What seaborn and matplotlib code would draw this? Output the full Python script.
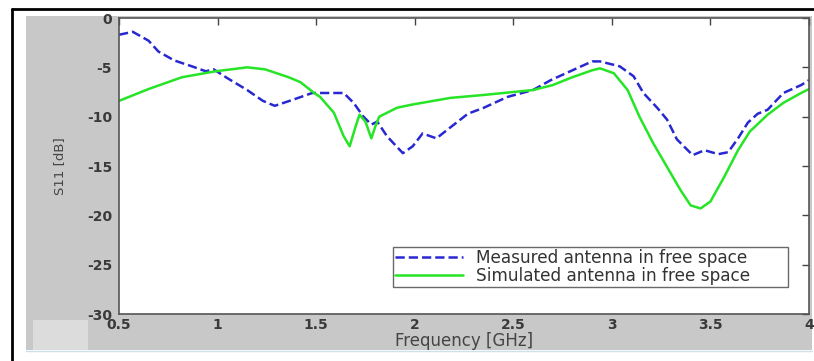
import numpy as np
import pandas as pd
import matplotlib
matplotlib.use('Agg')
import matplotlib.pyplot as plt
from matplotlib.patches import Rectangle
import seaborn as sns

# measured S11 (blue dashed)
f_meas = [0.50, 0.57, 0.65, 0.70, 0.78, 0.87, 0.94, 0.98, 1.05, 1.15, 1.23, 1.29, 1.38,
          1.48, 1.55, 1.64, 1.69, 1.74, 1.78, 1.81, 1.86, 1.94, 1.99, 2.04, 2.11, 2.18,
          2.27, 2.35, 2.47, 2.60, 2.69, 2.80, 2.90, 2.94, 3.04, 3.11, 3.16, 3.23, 3.28,
          3.33, 3.41, 3.47, 3.54, 3.59, 3.64, 3.69, 3.74, 3.79, 3.87, 3.96, 4.00]
s_meas = [-1.7, -1.4, -2.3, -3.4, -4.3, -4.9, -5.4, -5.2, -6.1, -7.3, -8.4, -8.9, -8.3,
          -7.6, -7.6, -7.6, -8.6, -10.0, -10.8, -10.5, -12.0, -13.7, -13.0, -11.7, -12.2, -11.1,
          -9.7, -9.1, -8.0, -7.3, -6.3, -5.3, -4.4, -4.4, -4.9, -5.9, -7.6, -9.1, -10.3,
          -12.3, -13.9, -13.4, -13.8, -13.6, -12.2, -10.6, -9.7, -9.3, -7.6, -6.8, -6.3]

# simulated S11 (green solid)
f_sim = [0.50, 0.65, 0.82, 0.99, 1.15, 1.24, 1.36, 1.42, 1.49, 1.52, 1.59, 1.64, 1.67,
         1.70, 1.72, 1.75, 1.78, 1.80, 1.82, 1.86, 1.91, 1.98, 2.18, 2.35, 2.60, 2.70,
         2.80, 2.90, 2.94, 3.01, 3.08, 3.14, 3.21, 3.28, 3.35, 3.40, 3.45, 3.50, 3.57,
         3.64, 3.70, 3.79, 3.87, 3.96, 4.00]
s_sim = [-8.4, -7.2, -6.0, -5.4, -5.0, -5.2, -6.0, -6.5, -7.6, -8.0, -9.6, -12.0, -13.0,
         -11.0, -9.8, -10.5, -12.2, -11.0, -10.0, -9.6, -9.1, -8.8, -8.1, -7.8, -7.3, -6.8,
         -6.0, -5.3, -5.1, -5.6, -7.3, -10.0, -12.7, -15.1, -17.5, -19.0, -19.3, -18.6, -16.1,
         -13.4, -11.5, -9.8, -8.6, -7.6, -7.2]

labels = ['Measured antenna in free space', 'Simulated antenna in free space']
xticks = [0.5, 1, 1.5, 2, 2.5, 3, 3.5, 4]
yticks = [0, -5, -10, -15, -20, -25, -30]

sns.set_style('white')
plt.rcParams['font.family'] = ['DejaVu Sans']

fig = plt.figure(figsize=(8.14, 3.61), dpi=100, facecolor='w')
W, H = 814.0, 361.0

def px_rect(x0, y0, x1, y1, **kw):
    # rectangle given in picture pixels (top-left origin)
    fig.patches.append(Rectangle((x0 / W, 1 - y1 / H), (x1 - x0) / W, (y1 - y0) / H,
                                 transform=fig.transFigure, zorder=-10, **kw))

def px_line(xs, ys, **kw):
    fig.add_artist(plt.Line2D([x / W for x in xs], [1 - y / H for y in ys],
                              transform=fig.transFigure, zorder=-5, **kw))

# gray matlab figure background and outer frame
px_rect(26, 16, 812, 350, facecolor='#c8c8c8', edgecolor='none')
px_rect(33, 320, 88, 350, facecolor='#dcdcdc', edgecolor='none')
px_line([12, 12], [9, 361], color='k', lw=2)
px_line([12, 814], [9, 9], color='k', lw=2)
px_line([26, 812], [351, 351], color='#cfe0ea', lw=1)

ax = fig.add_axes([119 / W, 1 - 314 / H, (809 - 119) / W, (314 - 18) / H])
ax.set_facecolor('white')

sns.lineplot(x=f_meas, y=s_meas, ax=ax, color='#2828d2', linewidth=1.8, linestyle='--',
             dashes=(3.2, 1.8), label=labels[0])
sns.lineplot(x=f_sim, y=s_sim, ax=ax, color='#26e426', linewidth=1.8, label=labels[1])

ax.set_xlim(0.5, 4)
ax.set_ylim(-30, 0)
ax.set_xticks(xticks)
ax.set_xticklabels(['0.5', '1', '1.5', '2', '2.5', '3', '3.5', '4'])
ax.set_yticks(yticks)
ax.set_yticklabels([str(t) for t in yticks])
ax.tick_params(direction='in', length=5, width=1, colors='#444444', top=True, right=True,
               labelsize=10)
ax.tick_params(axis='x', pad=3)
ax.tick_params(axis='y', pad=5)
for lab in ax.get_xticklabels() + ax.get_yticklabels():
    lab.set_fontweight('bold')
    lab.set_color('#3a3a3a')
for sp in ax.spines.values():
    sp.set_color('#555555')
    sp.set_linewidth(1.2)

ax.set_xlabel('Frequency [GHz]', fontsize=12, color='#444444', labelpad=0)
ax.set_ylabel('S11 [dB]', fontsize=9.5, color='#444444', labelpad=15)

leg = ax.legend(loc='upper left', mode='expand',
                bbox_to_anchor=((393 - 119) / 690, (314 - 247) / 296, (788 - 393) / 690, 0),
                fontsize=12.2, frameon=True, fancybox=False, handlelength=4.0,
                borderpad=0.12, labelspacing=0.0, handletextpad=0.8, borderaxespad=0)
leg.get_frame().set_edgecolor('#444444')
leg.get_frame().set_linewidth(1.0)
for t in leg.get_texts():
    t.set_color('#333333')

plt.savefig('out.png', dpi=100, facecolor='w')
